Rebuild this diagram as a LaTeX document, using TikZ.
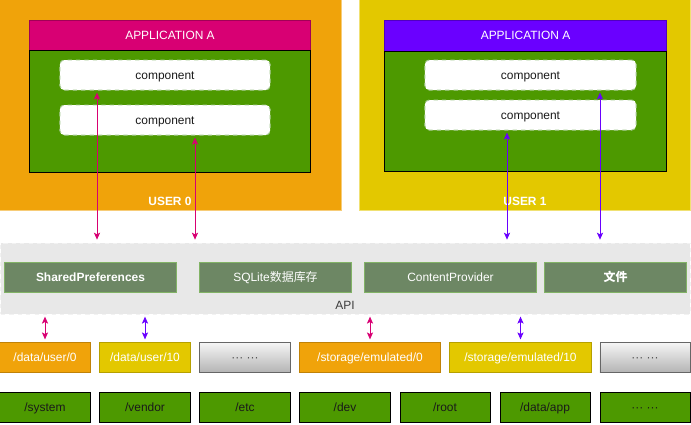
\documentclass[tikz,border=0pt]{standalone}
\usepackage{fontspec}
\setmainfont{Liberation Sans}
\newfontfamily\cjk{Noto Sans CJK SC}
\usetikzlibrary{positioning, arrows.meta}
\definecolor{userorange}{HTML}{F0A30A}
\definecolor{useryellow}{HTML}{E3C800}
\definecolor{appmagenta}{HTML}{D80073}
\definecolor{appviolet}{HTML}{6A00FF}
\definecolor{appgreen}{HTML}{4D9900}
\definecolor{apigreen}{HTML}{6D8764}
\definecolor{apiborder}{HTML}{82B366}
\definecolor{textdark}{HTML}{1A1A1A}
\tikzset{
x=0.025cm, y=-0.025cm, % one unit is one pixel of the sketch
>={Stealth[length=5pt, width=4.4pt, inset=1.2pt]}, % arrow heads
every node/.style={font=\fontsize{8.5}{10}\selectfont, inner sep=0pt, text height=6.3pt, text depth=0.6pt},
userbox/.style={rectangle, line width=0.7pt, minimum height=5.25cm}, % the space of one user
appheader/.style={rectangle, line width=0.7pt, minimum height=0.775cm, text=white}, % the title bar of an app
appbody/.style={rectangle, draw=black, line width=0.7pt, fill=appgreen}, % the body of an app
compbox/.style={rectangle, rounded corners=3pt, fill=white, draw=apiborder!70!white, dashed, line width=0.7pt, minimum width=5.25cm, minimum height=0.75cm, text=textdark},
apibox/.style={rectangle, fill=apigreen, draw=apiborder, line width=0.7pt, minimum height=0.75cm, text=white},
dirbox/.style={rectangle, line width=0.7pt, minimum width=2.25cm, minimum height=0.75cm, text=white},
rootbox/.style={rectangle, draw=black, fill=appgreen, line width=0.7pt, minimum width=2.25cm, minimum height=0.75cm, text=textdark},
dotsbox/.style={rectangle, draw=gray!120, top color=gray!7, bottom color=gray!58, line width=0.7pt, minimum width=2.25cm, minimum height=0.75cm, text=textdark!80!white},
pinkline/.style={<->, draw=appmagenta, line width=0.7pt},
violetline/.style={<->, draw=appviolet, line width=0.7pt},
}
\begin{document}
\begin{tikzpicture}
\useasboundingbox (0,0) rectangle (691,424);
% user 0
\node[userbox, fill=userorange, draw=userorange!55!white, minimum width=8.525cm] (user0) at (170.5,105) {};
\node[appheader, fill=appmagenta, draw=appmagenta!75!black, minimum width=7cm] (head0) at (170,35.5) {APPLICATION A};
\node[appbody, minimum width=7cm, minimum height=3.025cm] (body0) at (170,111.5) {};
\node[compbox] (comp0a) at (165,75) {component};
\node[compbox] (comp0b) at (165,120) {component};
\node[text=white, font=\fontsize{8.5}{10}\selectfont\bfseries] (user0label) at (170,201) {USER 0};
% user 1
\node[userbox, fill=useryellow, draw=useryellow!55!white, minimum width=8.25cm] (user1) at (525,105) {};
\node[appheader, fill=appviolet, draw=appviolet!75!black, minimum width=7.025cm] (head1) at (525.5,35.5) {APPLICATION A};
\node[appbody, minimum width=7.025cm, minimum height=3cm] (body1) at (525.5,111) {};
\node[compbox, minimum width=5.275cm] (comp1a) at (530.5,75) {component};
\node[compbox, minimum width=5.275cm] (comp1b) at (530.5,115) {component};
\node[text=white, font=\fontsize{8.5}{10}\selectfont\bfseries] (user1label) at (525,201) {USER 1};
% api layer
\node[rectangle, fill=gray!18, draw=gray!10, dashed, line width=0.7pt, minimum width=17.225cm, minimum height=1.775cm] (api) at (345.5,278.5) {};
\node[apibox, minimum width=4.275cm, font=\fontsize{8.5}{10}\selectfont\bfseries] (sp) at (90.5,277) {SharedPreferences};
\node[apibox, minimum width=3.775cm] (sqlite) at (275.5,277) {SQLite{\cjk 数据库存}};
\node[apibox, minimum width=4.275cm] (cp) at (450.5,277) {ContentProvider};
\node[apibox, minimum width=3.525cm] (file) at (615.5,277) {{\cjk\bfseries 文件}};
\node[text=textdark!85!white] (apilabel) at (345,305) {API};
% user directories
\node[dirbox, fill=userorange, draw=userorange!80!black] (du0) at (45,357) {/data/user/0};
\node[dirbox, fill=useryellow, draw=useryellow!80!black] (du10) at (145,357) {/data/user/10};
\node[dotsbox] (dots1) at (245,357) {··· ···};
\node[dirbox, fill=userorange, draw=userorange!80!black, minimum width=3.5cm] (se0) at (370,357) {/storage/emulated/0};
\node[dirbox, fill=useryellow, draw=useryellow!80!black, minimum width=3.525cm] (se10) at (520.5,357) {/storage/emulated/10};
\node[dotsbox] (dots2) at (645,357) {··· ···};
% root directories
\node[rootbox] (system) at (45,407) {/system};
\node[rootbox] (vendor) at (145,407) {/vendor};
\node[rootbox] (etc) at (245,407) {/etc};
\node[rootbox] (dev) at (345,407) {/dev};
\node[rootbox] (root) at (445,407) {/root};
\node[rootbox] (dataapp) at (545,407) {/data/app};
\node[rootbox] (dots3) at (645,407) {··· ···};
% connectors
\coordinate (x0a) at (97,0);
\coordinate (x0b) at (195,0);
\coordinate (x1b) at (507,0);
\coordinate (x1a) at (600,0);
\draw[pinkline, shorten <=1.5pt, shorten >=2pt] (comp0a.south -| x0a) -- (api.north -| x0a);
\draw[pinkline, shorten <=1.5pt, shorten >=2pt] (comp0b.south -| x0b) -- (api.north -| x0b);
\draw[violetline, shorten <=1.5pt, shorten >=2pt] (comp1b.south -| x1b) -- (api.north -| x1b);
\draw[violetline, shorten <=1.5pt, shorten >=2pt] (comp1a.south -| x1a) -- (api.north -| x1a);
\draw[pinkline, shorten <=1.5pt, shorten >=1.5pt] (api.south -| du0.north) -- (du0.north);
\draw[violetline, shorten <=1.5pt, shorten >=1.5pt] (api.south -| du10.north) -- (du10.north);
\draw[pinkline, shorten <=1.5pt, shorten >=1.5pt] (api.south -| se0.north) -- (se0.north);
\draw[violetline, shorten <=1.5pt, shorten >=1.5pt] (api.south -| se10.north) -- (se10.north);
\end{tikzpicture}
\end{document}
